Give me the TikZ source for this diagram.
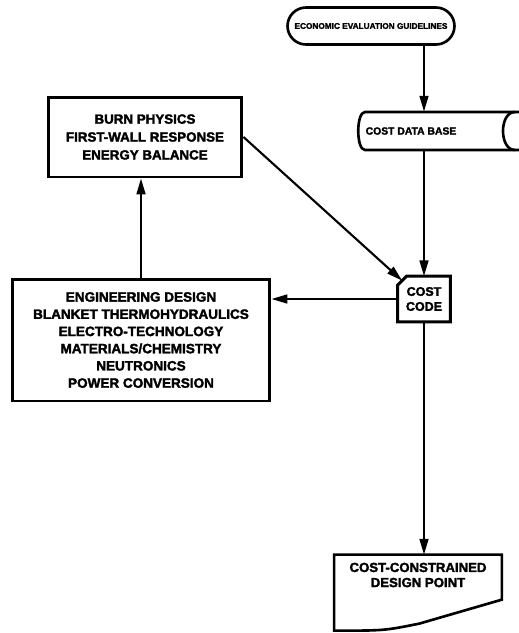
\documentclass[tikz,border=0pt]{standalone}
\usepackage{fontspec}
\setmainfont{Liberation Sans}[BoldFeatures={FakeBold=2.2}]
\usetikzlibrary{arrows.meta,calc}

\tikzset{
  txt/.style={align=center,inner sep=0pt},
  box/.style={draw,line width=1.7pt,txt},
  flow/.style={line width=1.2pt,-{Triangle[length=9pt,width=5pt]}},
}

\begin{document}
\begin{tikzpicture}[x=0.02cm,y=-0.02cm]
\useasboundingbox (0,0) rectangle (519,633);

% blocks
\node[txt,draw,line width=1.5pt,rounded corners=0.37cm,minimum width=3.34cm,minimum height=0.74cm,
  font=\bfseries\fontsize{4.7}{6}\selectfont] (guide) at (371,26) {ECONOMIC EVALUATION GUIDELINES};
\node[txt,minimum height=0.76cm,font=\bfseries\fontsize{5.9}{7}\selectfont] (cdb) at (411,131) {COST DATA BASE};
\node[box,minimum width=3.88cm,minimum height=1.6cm,font=\bfseries\fontsize{7.6}{10.2}\selectfont] (burn) at (145,137)
  {BURN PHYSICS\\FIRST-WALL RESPONSE\\ENERGY BALANCE};
\node[box,minimum width=5.16cm,minimum height=2.44cm,font=\bfseries\fontsize{7.7}{9.8}\selectfont] (eng) at (141,340)
  {ENGINEERING DESIGN\\BLANKET THERMOHYDRAULICS\\ELECTRO-TECHNOLOGY\\MATERIALS/CHEMISTRY\\NEUTRONICS\\POWER CONVERSION};
\node[txt,minimum width=1.04cm,minimum height=0.9cm,font=\bfseries\fontsize{7.1}{8.5}\selectfont] (code) at (424,299)
  {COST\\CODE};
\node[txt,minimum width=3.34cm,minimum height=0.8cm,font=\bfseries\fontsize{7.5}{8.6}\selectfont] (dp) at (418,575)
  {COST-CONSTRAINED\\DESIGN POINT};

% outlines of the special shapes
\draw[line width=1.5pt] (519,112) -- (365,112) .. controls (356,112) and (356,150) .. (365,150) -- (519,150);
\draw[line width=1.5pt] (515,112) .. controls (499,112) and (499,150) .. (515,150);
\draw[line width=1.7pt] ($(code.north west)+(0,9)$) -- ($(code.north west)+(9,0)$) -- (code.north east)
  -- (code.south east) -- (code.south west) -- cycle;
\coordinate (codecut) at ($(code.north west)+(4.5,4.5)$);
\draw[line width=1.5pt] (dp.north west) -- (dp.north east) -- ($(dp.north east)+(0,45)$)
  -- ($(dp.north west)+(85,69)$) .. controls ($(dp.north west)+(50,76)$) .. ($(dp.north west)+(0,76)$) -- cycle;

% connectors
\draw[flow] (guide.south -| code.north) -- (cdb.north -| code.north);
\draw[flow] (cdb.south -| code.north) -- (code.north);
\draw[flow] (burn.east) -- (codecut);
\draw[flow] (code.west) -- (code.west -| eng.east);
\draw[flow] (eng.north) -- (eng.north |- burn.south);
\draw[flow] (code.south) -- (code.south |- dp.north);
\end{tikzpicture}
\end{document}
